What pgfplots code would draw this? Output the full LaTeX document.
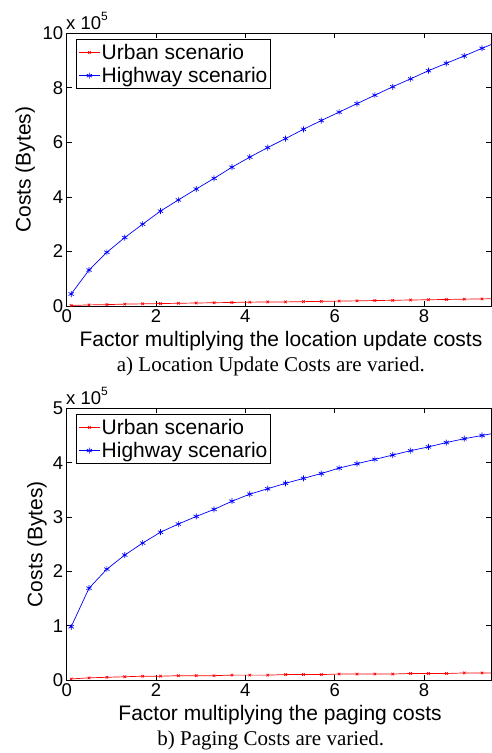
\documentclass[border=0pt]{standalone}
\usepackage{fontspec}
\setmainfont{Liberation Sans}
\newfontfamily\capfont{Liberation Serif}
\usepackage{pgfplots}
\pgfplotsset{compat=1.18}
\pgfplotsset{mystyle/.style={
  scale only axis, width=424.3pt, xmin=0, xmax=9.5, ymin=0,
  tick align=inside, xtick={0,2,4,6,8},
  ticklabel style={font=\fontsize{18.5}{18.5}\selectfont},
  /pgf/number format/assume math mode=true,
  axis line style={line width=0.9pt}, major tick length=5pt,
  every tick/.style={black, line width=0.7pt},
  legend style={at={(0.022,0.978)}, anchor=north west, draw=black, line width=1pt,
    font=\fontsize{21}{23}\selectfont, inner xsep=2pt, inner ysep=2.5pt, row sep=3pt,
    nodes={inner sep=1.5pt, text depth=0.2em}},
  legend cell align=left,
  legend image code/.code={\draw[mark repeat=2,mark phase=2,#1] plot coordinates {(0pt,0pt) (10.5pt,0pt) (21pt,0pt)};},
  legend image post style={line width=0.7pt},
}}
\pgfplotstableread{
x u h
0.1 0.02 0.44
0.5 0.04 1.32
0.9 0.05 1.97
1.3 0.07 2.51
1.7 0.08 3.00
2.1 0.09 3.48
2.5 0.10 3.89
2.9 0.11 4.29
3.3 0.12 4.68
3.7 0.13 5.09
4.1 0.14 5.46
4.5 0.15 5.81
4.9 0.15 6.14
5.3 0.16 6.48
5.7 0.17 6.80
6.1 0.18 7.11
6.5 0.19 7.42
6.9 0.20 7.73
7.3 0.21 8.04
7.7 0.22 8.33
8.1 0.23 8.63
8.5 0.24 8.90
8.9 0.25 9.17
9.3 0.26 9.45
9.7 0.27 9.72
}\tabA
\pgfplotstableread{
x u h
0.1 0.02 0.98
0.5 0.04 1.69
0.9 0.05 2.04
1.3 0.06 2.30
1.7 0.07 2.52
2.1 0.07 2.72
2.5 0.08 2.87
2.9 0.08 3.01
3.3 0.08 3.14
3.7 0.09 3.29
4.1 0.09 3.42
4.5 0.09 3.52
4.9 0.10 3.62
5.3 0.10 3.71
5.7 0.10 3.80
6.1 0.11 3.90
6.5 0.11 3.98
6.9 0.11 4.06
7.3 0.11 4.14
7.7 0.12 4.22
8.1 0.12 4.29
8.5 0.12 4.37
8.9 0.13 4.44
9.3 0.13 4.50
9.7 0.13 4.56
}\tabB
\begin{document}
\begin{tikzpicture}
\useasboundingbox (0,0) rectangle (491pt,-753pt);
\begin{axis}[mystyle, anchor=north west, at={(66.7pt,-33.3pt)}, height=272.7pt,
  ymax=10, ytick={0,2,4,6,8,10},
  ylabel={Costs (Bytes)},
  every axis y label/.style={at={(axis description cs:-0.098,0.5)}, rotate=90, anchor=center, font=\fontsize{21}{21}\selectfont},
  every axis x label/.style={at={(axis description cs:0.505,-0.149)}, anchor=base, font=\fontsize{21}{21}\selectfont},
  xlabel={Factor multiplying the location update costs}]
\addplot[red, line width=0.7pt, mark=x, mark size=1.8pt] table[x=x,y=u]{\tabA};
\addlegendentry{Urban scenario}
\addplot[blue, line width=0.7pt, mark=asterisk, mark size=3pt] table[x=x,y=h]{\tabA};
\addlegendentry{Highway scenario}
\end{axis}
\node[anchor=base west, font=\fontsize{18.5}{18.5}\selectfont, inner sep=0pt] at (66pt,-29.3pt) {x 10\raisebox{9pt}{\fontsize{12}{12}\selectfont 5}};
\node[anchor=base, font=\capfont\fontsize{21}{21}\selectfont, inner sep=0pt] at (270.8pt,-371pt) {a) Location Update Costs are varied.};
\begin{axis}[mystyle, anchor=north west, at={(66.7pt,-408.3pt)}, height=271.7pt,
  ymax=5, ytick={0,1,2,3,4,5},
  ylabel={Costs (Bytes)},
  every axis y label/.style={at={(axis description cs:-0.07,0.5)}, rotate=90, anchor=center, font=\fontsize{21}{21}\selectfont},
  every axis x label/.style={at={(axis description cs:0.503,-0.15)}, anchor=base, font=\fontsize{21}{21}\selectfont},
  xlabel={Factor multiplying the paging costs}]
\addplot[red, line width=0.7pt, mark=x, mark size=1.8pt] table[x=x,y=u]{\tabB};
\addlegendentry{Urban scenario}
\addplot[blue, line width=0.7pt, mark=asterisk, mark size=3pt] table[x=x,y=h]{\tabB};
\addlegendentry{Highway scenario}
\end{axis}
\node[anchor=base west, font=\fontsize{18.5}{18.5}\selectfont, inner sep=0pt] at (66pt,-404.5pt) {x 10\raisebox{9pt}{\fontsize{12}{12}\selectfont 5}};
\node[anchor=base, font=\capfont\fontsize{21}{21}\selectfont, inner sep=0pt] at (270.8pt,-745.7pt) {b) Paging Costs are varied.};
\end{tikzpicture}
\end{document}
